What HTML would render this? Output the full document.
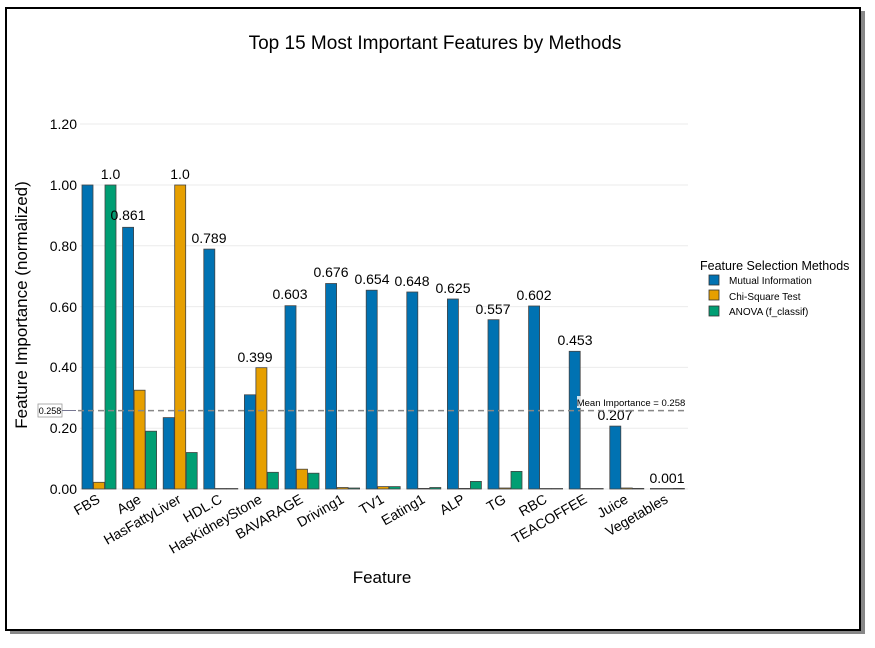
<!DOCTYPE html>
<html><head><meta charset="utf-8"><style>
body{margin:0;background:#fff;}
svg{display:block;font-family:"Liberation Sans",Arial,sans-serif;}
</style></head><body>
<svg width="875" height="648" viewBox="0 0 875 648" xmlns="http://www.w3.org/2000/svg">
<rect x="0" y="0" width="875" height="648" fill="#fff"/>
<rect x="10" y="11" width="855" height="623" fill="#888"/>
<rect x="6" y="8" width="854" height="622" fill="#fff" stroke="#000" stroke-width="2"/>
<text x="435" y="49" font-size="19" text-anchor="middle">Top 15 Most Important Features by Methods</text>
<g stroke="#ebebeb" stroke-width="1">
<line x1="80" x2="688" y1="124" y2="124"/><line x1="80" x2="688" y1="185" y2="185"/>
<line x1="80" x2="688" y1="245.8" y2="245.8"/><line x1="80" x2="688" y1="306.6" y2="306.6"/>
<line x1="80" x2="688" y1="367.4" y2="367.4"/><line x1="80" x2="688" y1="428.2" y2="428.2"/>
<line x1="80" x2="688" y1="489" y2="489"/>
</g>
<g font-size="14" text-anchor="end">
<text x="77" y="129">1.20</text><text x="77" y="190">1.00</text><text x="77" y="251">0.80</text>
<text x="77" y="312">0.60</text><text x="77" y="372">0.40</text><text x="77" y="433">0.20</text><text x="77" y="494">0.00</text>
</g>
<text transform="translate(27,305) rotate(-90)" font-size="17" text-anchor="middle">Feature Importance (normalized)</text>
<text x="382" y="583" font-size="17" text-anchor="middle">Feature</text>
<g stroke="#444" stroke-width="0.8">
<g fill="#0072B2">
<rect x="82" y="185" width="11" height="304"/><rect x="122.6" y="227.3" width="11" height="261.7"/>
<rect x="163.2" y="417.6" width="11" height="71.4"/><rect x="203.8" y="249.1" width="11" height="239.9"/>
<rect x="244.4" y="394.8" width="11" height="94.2"/><rect x="285" y="305.7" width="11" height="183.3"/>
<rect x="325.6" y="283.5" width="11" height="205.5"/><rect x="366.2" y="290.2" width="11" height="198.8"/>
<rect x="406.8" y="292" width="11" height="197"/><rect x="447.4" y="299" width="11" height="190"/>
<rect x="488" y="319.7" width="11" height="169.3"/><rect x="528.6" y="306" width="11" height="183"/>
<rect x="569.2" y="351.3" width="11" height="137.7"/><rect x="609.8" y="426.1" width="11" height="62.9"/>
<rect x="650.4" y="488.5" width="11" height="0.5"/>
</g>
<g fill="#E69F00">
<rect x="93.5" y="482.3" width="11" height="6.7"/><rect x="134.1" y="390.2" width="11" height="98.8"/>
<rect x="174.7" y="185" width="11" height="304"/><rect x="215.3" y="488.5" width="11" height="0.5"/>
<rect x="255.9" y="367.7" width="11" height="121.3"/><rect x="296.5" y="469.2" width="11" height="19.8"/>
<rect x="337.1" y="487.5" width="11" height="1.5"/><rect x="377.7" y="486.6" width="11" height="2.4"/>
<rect x="418.3" y="488.4" width="11" height="0.6"/><rect x="458.9" y="488.4" width="11" height="0.6"/>
<rect x="499.5" y="488" width="11" height="1"/><rect x="540.1" y="488.5" width="11" height="0.5"/>
<rect x="580.7" y="488.5" width="11" height="0.5"/><rect x="621.3" y="488" width="11" height="1"/>
<rect x="661.9" y="488.5" width="11" height="0.5"/>
</g>
<g fill="#009E73">
<rect x="105" y="185" width="11" height="304"/><rect x="145.6" y="431.2" width="11" height="57.8"/>
<rect x="186.2" y="452.5" width="11" height="36.5"/><rect x="226.8" y="488.5" width="11" height="0.5"/>
<rect x="267.4" y="472.3" width="11" height="16.7"/><rect x="308" y="473.2" width="11" height="15.8"/>
<rect x="348.6" y="488" width="11" height="1"/><rect x="389.2" y="486.6" width="11" height="2.4"/>
<rect x="429.8" y="487.5" width="11" height="1.5"/><rect x="470.4" y="481.4" width="11" height="7.6"/>
<rect x="511" y="471.4" width="11" height="17.6"/><rect x="551.6" y="488.5" width="11" height="0.5"/>
<rect x="592.2" y="488.5" width="11" height="0.5"/><rect x="632.8" y="488.4" width="11" height="0.6"/>
<rect x="673.4" y="488.4" width="11" height="0.6"/>
</g>
</g>
<g font-size="14" text-anchor="middle">
<text x="110.5" y="179">1.0</text><text x="128" y="220">0.861</text><text x="180" y="179">1.0</text>
<text x="209" y="243">0.789</text><text x="255" y="362">0.399</text><text x="290" y="299">0.603</text>
<text x="331" y="277">0.676</text><text x="372" y="284">0.654</text><text x="412" y="286">0.648</text>
<text x="453" y="293">0.625</text><text x="493" y="314">0.557</text><text x="534" y="300">0.602</text>
<text x="575" y="345">0.453</text><text x="615" y="420">0.207</text><text x="667" y="483">0.001</text>
</g>
<line x1="78" x2="688" y1="410.6" y2="410.6" stroke="#888" stroke-width="1.5" stroke-dasharray="6,4"/>
<rect x="38" y="404" width="24" height="13" fill="#fff" stroke="#999" stroke-width="0.8"/>
<text x="50" y="414" font-size="9" text-anchor="middle">0.258</text>
<line x1="62" x2="76" y1="410.6" y2="410.6" stroke="#557" stroke-width="0.8"/>
<rect x="577" y="396" width="108" height="12" fill="#fff" opacity="0.8"/>
<text x="631" y="406" font-size="9.5" text-anchor="middle">Mean Importance = 0.258</text>
<g font-size="14" text-anchor="end">
<text transform="translate(101,502) rotate(-30)">FBS</text>
<text transform="translate(142,502) rotate(-30)">Age</text>
<text transform="translate(182,502) rotate(-30)">HasFattyLiver</text>
<text transform="translate(223,502) rotate(-30)">HDL.C</text>
<text transform="translate(263,502) rotate(-30)">HasKidneyStone</text>
<text transform="translate(304,502) rotate(-30)">BAVARAGE</text>
<text transform="translate(345,502) rotate(-30)">Driving1</text>
<text transform="translate(385,502) rotate(-30)">TV1</text>
<text transform="translate(426,502) rotate(-30)">Eating1</text>
<text transform="translate(466,502) rotate(-30)">ALP</text>
<text transform="translate(507,502) rotate(-30)">TG</text>
<text transform="translate(548,502) rotate(-30)">RBC</text>
<text transform="translate(588,502) rotate(-30)">TEACOFFEE</text>
<text transform="translate(629,502) rotate(-30)">Juice</text>
<text transform="translate(669,502) rotate(-30)">Vegetables</text>
</g>
<text x="700" y="270" font-size="12.5">Feature Selection Methods</text>
<g stroke="#333" stroke-width="0.8">
<rect x="709" y="275" width="10" height="10" fill="#0072B2"/>
<rect x="709" y="290" width="10" height="10" fill="#E69F00"/>
<rect x="709" y="306" width="10" height="10" fill="#009E73"/>
</g>
<g font-size="10">
<text x="729" y="284">Mutual Information</text>
<text x="729" y="300">Chi-Square Test</text>
<text x="729" y="315">ANOVA (f_classif)</text>
</g>
</svg>
</body></html>
